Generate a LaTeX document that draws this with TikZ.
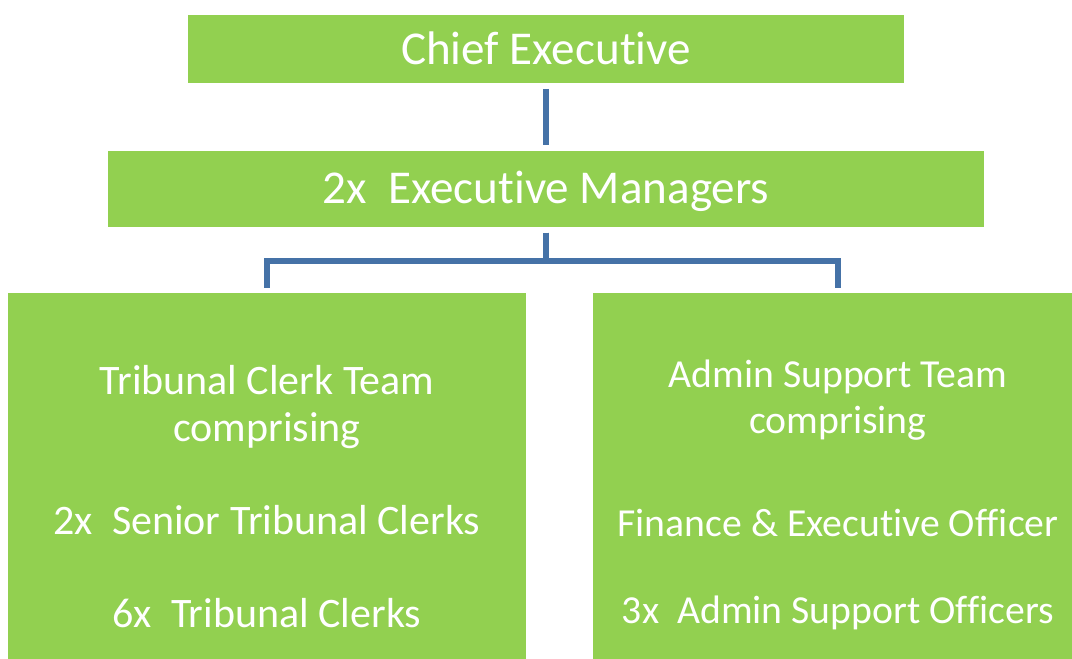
\documentclass[tikz,border=0pt]{standalone}
\usepackage{fontspec}
\setmainfont[Ligatures=NoCommon]{Carlito}
\usetikzlibrary{positioning}
\definecolor{boxColor}{RGB}{146,208,80}
\definecolor{lineColor}{RGB}{69,114,167}
\tikzstyle{chart} = [x = 0.02cm, y = -0.02cm]
\tikzstyle{boxStyle} = [fill=boxColor, draw=none, inner sep=0pt, outer sep=0pt, anchor=north west]
\tikzstyle{headText} = [text=white, anchor=base, inner sep=0pt, font=\fontsize{26.8}{32}\selectfont]
\tikzstyle{clerkText} = [headText, font=\fontsize{23.9}{28}\selectfont]
\tikzstyle{adminText} = [headText, font=\fontsize{22.6}{27}\selectfont]
\tikzstyle{connectorLine} = [color=lineColor, line width=0.11cm, shorten <=0.11cm, shorten >=0.11cm]
\newcommand{\orgBox}[5]{\node [boxStyle, minimum width={(#4-#2)*0.02cm}, minimum height={(#5-#3)*0.02cm}] (#1) at (#2,#3) {};}

\begin{document}
\begin{tikzpicture}[chart]
  \useasboundingbox (0,0) rectangle (1072,659);

  \orgBox{chiefBox}{188}{15}{904}{83}
  \orgBox{managerBox}{108}{151}{984}{227}
  \orgBox{clerkBox}{8}{293}{526}{665}
  \orgBox{adminBox}{593}{293}{1083}{665}

  \node [headText] (chiefText) at (546,64) {Chief Executive};
  \node [headText] (managerText) at (546,203) {2x\ \ Executive Managers};

  \node [clerkText] (clerkTeam) at (267,394) {Tribunal Clerk Team};
  \node [clerkText] (clerkComp) at (267,441) {comprising};
  \node [clerkText] (seniorClerks) at (267,534) {2x\ \ Senior Tribunal Clerks};
  \node [clerkText] (clerks) at (267,627) {6x\ \ Tribunal Clerks};

  \node [adminText] (adminTeam) at (838,387) {Admin Support Team};
  \node [adminText] (adminComp) at (838,433) {comprising};
  \node [adminText] (financeOfficer) at (838,536) {Finance \& Executive Officer};
  \node [adminText] (adminOfficers) at (838,623) {3x\ \ Admin Support Officers};

  \coordinate (busMid) at (546,261);
  \coordinate (clerkTop) at (267,293);
  \coordinate (adminTop) at (838,293);

  \draw [connectorLine, shorten <=0.12cm, shorten >=0.12cm] (chiefBox.south) -- (managerBox.north);
  \draw [connectorLine] (managerBox.south) -- (busMid) -| (clerkTop);
  \draw [connectorLine] (managerBox.south) -- (busMid) -| (adminTop);
\end{tikzpicture}
\end{document}
